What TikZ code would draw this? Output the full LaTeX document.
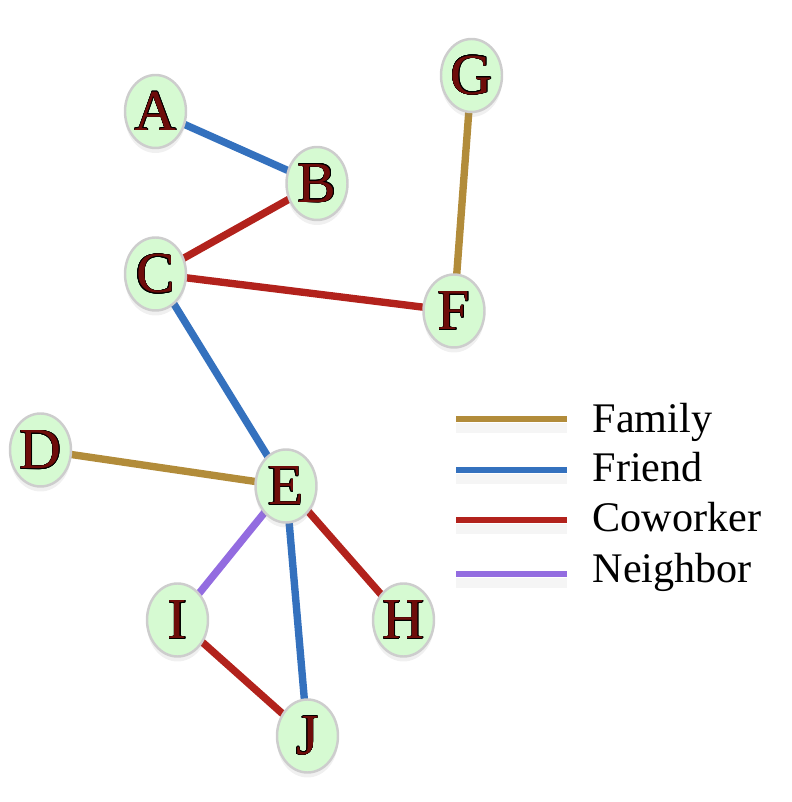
\documentclass[tikz,border=0pt]{standalone}
\usepackage{fontspec}
\setmainfont{Liberation Serif}
\usepackage{tikz-network}
\usepackage{contour}
\usetikzlibrary{shapes.geometric,shadows}
\contourlength{0.15pt}
\definecolor{nodegreen}{RGB}{214,250,210}
\definecolor{nodeline}{RGB}{205,205,205}
\definecolor{labelred}{RGB}{110,12,10}
\definecolor{familycol}{RGB}{178,140,58}
\definecolor{friendcol}{RGB}{52,113,190}
\definecolor{coworkercol}{RGB}{178,34,28}
\definecolor{neighborcol}{RGB}{147,108,224}
\DeclareRobustCommand{\LabelSize}{\normalfont\fontsize{16.5}{18}\selectfont}
\DeclareRobustCommand{\Name}[1]{{\LabelSize\contour{black}{#1}}}
\tikzset{
  person/.style={ellipse,minimum width=0.61cm,minimum height=0.73cm,inner sep=0pt,
    draw=nodeline,line width=0.7pt,
    drop shadow={shadow xshift=0pt,shadow yshift=-0.05cm,opacity=0.12}},
  legline/.style={line width=1.75pt,
    preaction={draw=black,opacity=0.04,line width=3pt,transform canvas={yshift=-2.5pt}}},
  legtext/.style={anchor=base west,inner sep=0pt,font=\fontsize{12}{14}\selectfont}
}
\SetVertexStyle[LineColor=nodeline,LineWidth=0.7pt,TextFont=\LabelSize]

\begin{document}
\begin{tikzpicture}
\clip (0,0) rectangle (7.92,8.02);
\Vertex[x=1.555,y=6.905,color=nodegreen,label=\Name{A},fontcolor=labelred,position=center,style={person}]{A}
\Vertex[x=3.170,y=6.185,color=nodegreen,label=\Name{B},fontcolor=labelred,position=center,style={person}]{B}
\Vertex[x=1.555,y=5.280,color=nodegreen,label=\Name{C},fontcolor=labelred,position=center,style={person}]{C}
\Vertex[x=0.405,y=3.520,color=nodegreen,label=\Name{D},fontcolor=labelred,position=center,style={person}]{D}
\Vertex[x=2.860,y=3.160,color=nodegreen,label=\Name{E},fontcolor=labelred,position=center,style={person}]{E}
\Vertex[x=4.540,y=4.910,color=nodegreen,label=\Name{F},fontcolor=labelred,position=center,style={person}]{F}
\Vertex[x=4.715,y=7.265,color=nodegreen,label=\Name{G},fontcolor=labelred,position=center,style={person}]{G}
\Vertex[x=4.035,y=1.820,color=nodegreen,label=\Name{H},fontcolor=labelred,position=center,style={person}]{H}
\Vertex[x=1.775,y=1.820,color=nodegreen,label=\Name{I},fontcolor=labelred,position=center,style={person}]{I}
\Vertex[x=3.075,y=0.660,color=nodegreen,label=\Name{J},fontcolor=labelred,position=center,style={person}]{J}
\Edge[lw=2.1,color=friendcol](A)(B)
\Edge[lw=2.1,color=coworkercol](B)(C)
\Edge[lw=2.1,color=coworkercol](C)(F)
\Edge[lw=2.1,color=familycol](G)(F)
\Edge[lw=2.1,color=friendcol](C)(E)
\Edge[lw=2.1,color=familycol](D)(E)
\Edge[lw=2.1,color=neighborcol](E)(I)
\Edge[lw=2.1,color=friendcol](E)(J)
\Edge[lw=2.1,color=coworkercol](E)(H)
\Edge[lw=2.1,color=coworkercol](I)(J)
% legend
\coordinate (famL) at (4.56,3.83);
\coordinate (famR) at (5.67,3.83);
\coordinate (friL) at (4.56,3.32);
\coordinate (friR) at (5.67,3.32);
\coordinate (cowL) at (4.56,2.82);
\coordinate (cowR) at (5.67,2.82);
\coordinate (neiL) at (4.56,2.28);
\coordinate (neiR) at (5.67,2.28);
\draw[legline,familycol] (famL) -- (famR);
\draw[legline,friendcol] (friL) -- (friR);
\draw[legline,coworkercol] (cowL) -- (cowR);
\draw[legline,neighborcol] (neiL) -- (neiR);
\node[legtext] (famT) at (5.92,3.69) {Family};
\node[legtext] (friT) at (5.92,3.20) {Friend};
\node[legtext] (cowT) at (5.92,2.70) {Coworker};
\node[legtext] (neiT) at (5.92,2.19) {Neighbor};
\end{tikzpicture}
\end{document}
